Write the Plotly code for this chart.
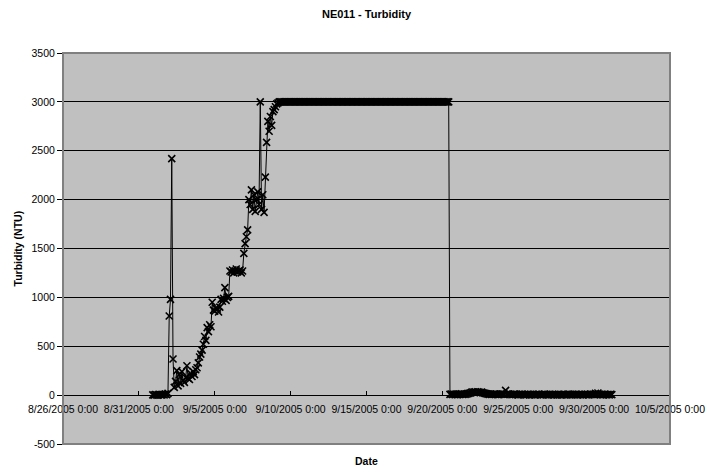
import pandas as pd
import plotly.graph_objects as go

# ---- data (2-hour samples starting at SAMPLE_START) ----
SAMPLE_START = "2005-08-31 22:00"
SAMPLE_STEP_HOURS = 2

PRE_EVENT = [3, 0, 6, 2, 0, 9, 4, 1, 7, 2, 11, 5]
SPIKE_AND_RISE = [
    18, 810, 980, 2420, 370, 80, 140, 250, 95, 210, 120, 240,
    150, 130, 180, 300, 170, 160, 220, 190, 240, 210, 260, 280,
    330, 390, 420, 460, 520, 600, 560, 690, 650, 720, 700, 950,
    870, 860, 890, 880, 850, 900, 980, 960, 990, 1100, 970, 1000,
    1010, 1270, 1260, 1280, 1250, 1270, 1290, 1260, 1270, 1280, 1250, 1270,
    1450, 1550, 1620, 1690, 2000, 1950, 2100, 1900, 2050, 1880, 2000, 2080,
    1950, 3000, 1900, 2050, 1870, 2230, 2585, 2800, 2700, 2850, 2760, 2900,
    2920, 2950, 2980, 2990,
]
PLATEAU = [
    3000, 3000, 3000, 3000,   3000, 3000, 3000, 3000,
    3000, 3000, 3000, 3000,   3000, 3000, 3000, 3000,   3000, 3000, 3000, 3000,
    3000, 3000, 3000, 3000,   3000, 3000, 3000, 3000,   3000, 3000, 3000, 3000,
    3000, 3000, 3000, 3000,   3000, 3000, 3000, 3000,   3000, 3000, 3000, 3000,
    3000, 3000, 3000, 3000,   3000, 3000, 3000, 3000,   3000, 3000, 3000, 3000,
    3000, 3000, 3000, 3000,   3000, 3000, 3000, 3000,   3000, 3000, 3000, 3000,
    3000, 3000, 3000, 3000,   3000, 3000, 3000, 3000,   3000, 3000, 3000, 3000,
    3000, 3000, 3000, 3000,   3000, 3000, 3000, 3000,   3000, 3000, 3000, 3000,
    3000, 3000, 3000, 3000,   3000, 3000, 3000, 3000,   3000, 3000, 3000, 3000,
    3000, 3000, 3000, 3000,   3000, 3000, 3000, 3000,   3000, 3000, 3000, 3000,
    3000, 3000, 3000, 3000,   3000, 3000, 3000, 3000,   3000, 3000, 3000, 3000,
    3000, 3000, 3000, 3000,   3000, 3000, 3000,
]
RECOVERY = [
    8, 12, 6, 10, 5,
    9, 4, 11, 7, 13, 6, 10, 8, 12, 15, 18, 22,
    28, 32, 30, 35, 27, 33, 30, 26, 31, 24, 20, 17,
    14, 10, 8, 12, 6, 9, 11, 7, 10, 5, 8, 12,
    9, 11, 7, 48, 10, 12, 6, 9, 4, 8, 11, 6,
    7, 3, 9, 5, 10, 4, 8, 2, 6, 9, 3, 7,
    5, 8, 2, 7, 4, 9, 6, 3, 8, 5, 10, 4,
    6, 2, 8, 4, 7, 3, 9, 5, 2, 8, 6, 3,
    4, 9, 5, 2, 7, 10, 3, 6, 8, 4, 5, 9,
    3, 7, 5, 9, 2, 6, 8, 4, 7, 3, 10, 6,
    8, 4, 18, 6, 22, 9, 5, 7, 3, 8, 6, 4,
    7, 3, 9, 5,
]

X_TICK_DATES = ["2005-08-26", "2005-08-31", "2005-09-05", "2005-09-10", "2005-09-15",
                "2005-09-20", "2005-09-25", "2005-09-30", "2005-10-05"]
X_TICK_LABELS = ["8/26/2005 0:00", "8/31/2005 0:00", "9/5/2005 0:00", "9/10/2005 0:00",
                 "9/15/2005 0:00", "9/20/2005 0:00", "9/25/2005 0:00", "9/30/2005 0:00",
                 "10/5/2005 0:00"]
Y_TICK_VALUES = [-500, 0, 500, 1000, 1500, 2000, 2500, 3000, 3500]
Y_TICK_LABELS = ["-500", "0", "500", "1000", "1500", "2000", "2500", "3000", "3500"]

turbidity = PRE_EVENT + SPIKE_AND_RISE + PLATEAU + RECOVERY
times = pd.date_range(SAMPLE_START, periods=len(turbidity), freq=f"{SAMPLE_STEP_HOURS}h")

FONT = "Liberation Sans, Arial, sans-serif"

fig = go.Figure()
fig.add_trace(go.Scatter(
    x=times, y=turbidity, mode="lines+markers",
    line=dict(color="black", width=1),
    marker=dict(symbol="x-thin", size=7, color="black",
                line=dict(color="black", width=1.6)),
    showlegend=False, hoverinfo="skip",
))

fig.update_layout(
    width=707, height=472,
    margin=dict(l=63, r=37, t=53, b=28, autoexpand=False),
    paper_bgcolor="white", plot_bgcolor="#C0C0C0",
    font=dict(family=FONT, size=10.5, color="black"),
    title=dict(text="<b>NE011 - Turbidity</b>", x=0.5, xref="paper",
               y=1 - 14 / 472, yref="container", yanchor="middle",
               font=dict(family=FONT, size=11, color="black")),
    xaxis=dict(
        type="date", range=[X_TICK_DATES[0], X_TICK_DATES[-1]],
        tickmode="array", tickvals=X_TICK_DATES, ticktext=X_TICK_LABELS,
        anchor="free", position=0.125, automargin=False,
        showline=True, linecolor="black", linewidth=1,
        ticks="inside", ticklen=4, tickcolor="black",
        ticklabelstandoff=4,
        showgrid=False, zeroline=False,
        tickfont=dict(family=FONT, size=10.5, color="black"),
    ),
    yaxis=dict(
        range=[-500, 3500], tickmode="array",
        tickvals=Y_TICK_VALUES, ticktext=Y_TICK_LABELS,
        showline=True, linecolor="black", linewidth=1, automargin=False,
        ticks="outside", ticklen=5, tickcolor="black",
        showgrid=True, gridcolor="black", gridwidth=1,
        zeroline=False,
        tickfont=dict(family=FONT, size=10.5, color="black"),
    ),
    shapes=[dict(type="rect", xref="paper", yref="paper", x0=0, x1=1, y0=0, y1=1,
                 line=dict(color="#808080", width=2), layer="above")],
    annotations=[
        dict(text="<b>Date</b>", xref="paper", yref="paper", x=0.5, y=0,
             yshift=-17, yanchor="middle", showarrow=False,
             font=dict(family=FONT, size=10.5, color="black")),
        dict(text="<b>Turbidity (NTU)</b>", xref="paper", yref="paper", x=0, y=0.5,
             xshift=-46, xanchor="center", yanchor="middle", textangle=-90,
             showarrow=False, font=dict(family=FONT, size=10.5, color="black")),
    ],
)

fig.write_html("out.html")
